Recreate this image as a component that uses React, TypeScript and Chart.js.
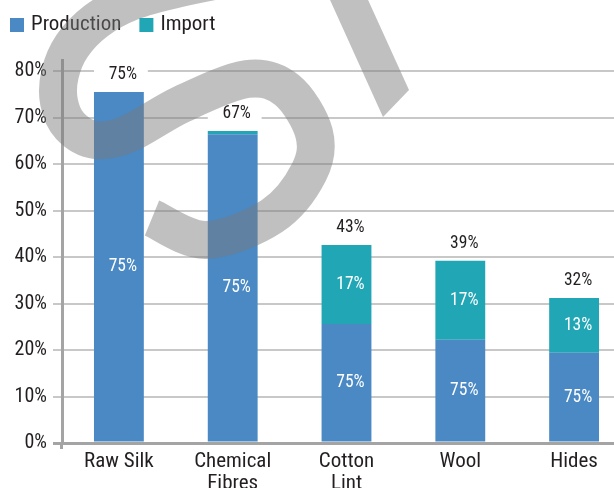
import React, { useEffect, useRef } from "react";
import { Chart, registerables } from "chart.js";

Chart.register(...registerables);

// ---------- data ----------
const categories = [["Raw Silk"], ["Chemical", "Fibres"], ["Cotton", "Lint"], ["Wool"], ["Hides"]];
const seriesNames = ["Production", "Import"];
const productionValues = [75.5, 66.4, 25.6, 22.2, 19.4];
const importValues = [0, 0.7, 17.0, 17.0, 11.8];
const productionLabels = ["75%", "75%", "75%", "75%", "75%"];
const importLabels = ["", "", "17%", "17%", "13%"];
const totalLabels = ["75%", "67%", "43%", "39%", "32%"];
const yTicks = [0, 10, 20, 30, 40, 50, 60, 70, 80];
const yTickLabels = ["0%", "10%", "20%", "30%", "40%", "50%", "60%", "70%", "80%"];

// ---------- style ----------
const FONT = "'Liberation Sans Narrow', 'Arial Narrow', 'Roboto Condensed', 'DejaVu Sans Condensed', sans-serif";
const BLUE = "#4a89c4";
const TEAL = "#20a6b4";
const TXT = "#231f20";
const GRID = "#c8c8c8";
const AXIS = "#a4a4a4";
const WM = "rgba(121,121,121,0.47)";

// decorative watermark stroke (not data)
const WM_S = [
  [250, -26], [180, -12], [130, 2], [96, 21], [72, 46], [60, 74], [59, 102], [70, 126], [95, 140], [128, 134],
  [182, 104], [247, 79], [287, 90], [314, 133], [309, 172], [272, 216], [206, 240], [152, 218],
];
const WM_V = [[321, -20], [383, 117], [409, 90], [359, -20]];

const labelPlugin = {
  id: "barLabels",
  afterDatasetsDraw(chart: any) {
    const ctx = chart.ctx;
    const m0 = chart.getDatasetMeta(0);
    const m1 = chart.getDatasetMeta(1);
    ctx.save();
    ctx.textAlign = "center";
    ctx.textBaseline = "middle";
    ctx.font = `17.5px ${FONT}`;
    m0.data.forEach((el: any, i: number) => {
      const p = el.getProps(["x", "y", "base", "width"], true);
      ctx.fillStyle = "#ffffff";
      ctx.fillText(productionLabels[i], p.x + 4, (p.y + p.base) / 2);
      const q = m1.data[i].getProps(["x", "y", "base", "width"], true);
      if (importLabels[i]) ctx.fillText(importLabels[i], q.x + 4, (q.y + q.base) / 2);
      const top = Math.min(p.y, q.y);
      const cy = top - 18;
      ctx.fillStyle = "#ffffff";
      ctx.fillRect(p.x - p.width / 2, cy - 10, p.width + 4, 20);
      ctx.fillStyle = TXT;
      ctx.fillText(totalLabels[i], p.x + 4, cy + 1);
    });
    ctx.restore();
  },
};

const decorPlugin = {
  id: "decor",
  afterDraw(chart: any) {
    const ctx = chart.ctx;
    const area = chart.chartArea;
    ctx.save();
    // axis stub below zero line
    ctx.strokeStyle = AXIS;
    ctx.lineWidth = 3;
    ctx.beginPath();
    ctx.moveTo(area.left - 0.5, area.bottom);
    ctx.lineTo(area.left - 0.5, area.bottom + 6);
    ctx.stroke();

    // legend
    ctx.font = `21px ${FONT}`;
    ctx.textBaseline = "middle";
    ctx.textAlign = "left";
    let x = 10;
    chart.data.datasets.forEach((ds: any) => {
      ctx.fillStyle = ds.backgroundColor;
      ctx.fillRect(x, 18, 14, 14);
      ctx.fillStyle = TXT;
      ctx.fillText(ds.label, x + 21, 25);
      x += 21 + ctx.measureText(ds.label).width + 18;
    });

    // watermark
    ctx.strokeStyle = WM;
    ctx.lineWidth = 38;
    ctx.lineCap = "butt";
    ctx.lineJoin = "round";
    ctx.beginPath();
    const P = WM_S;
    ctx.moveTo(P[0][0], P[0][1]);
    for (let i = 0; i < P.length - 1; i++) {
      const p0 = P[Math.max(0, i - 1)];
      const p1 = P[i];
      const p2 = P[i + 1];
      const p3 = P[Math.min(P.length - 1, i + 2)];
      ctx.bezierCurveTo(
        p1[0] + (p2[0] - p0[0]) / 6, p1[1] + (p2[1] - p0[1]) / 6,
        p2[0] - (p3[0] - p1[0]) / 6, p2[1] - (p3[1] - p1[1]) / 6,
        p2[0], p2[1]
      );
    }
    ctx.stroke();
    ctx.fillStyle = WM;
    ctx.beginPath();
    WM_V.forEach((pt, i) => (i ? ctx.lineTo(pt[0], pt[1]) : ctx.moveTo(pt[0], pt[1])));
    ctx.closePath();
    ctx.fill();
    ctx.restore();
  },
};

export default function App() {
  const ref = useRef<HTMLCanvasElement | null>(null);
  useEffect(() => {
    if (!ref.current) return;
    const chart = new Chart(ref.current, {
      type: "bar",
      data: {
        labels: categories,
        datasets: [
          { label: seriesNames[0], data: productionValues, backgroundColor: BLUE, borderWidth: 0, barPercentage: 0.438, categoryPercentage: 1 },
          { label: seriesNames[1], data: importValues, backgroundColor: TEAL, borderWidth: 0, barPercentage: 0.438, categoryPercentage: 1 },
        ],
      },
      options: {
        responsive: false,
        animation: false,
        devicePixelRatio: 1,
        layout: { padding: { top: 60, right: 9, left: 0, bottom: 0 } },
        plugins: { legend: { display: false }, tooltip: { enabled: false } },
        scales: {
          x: {
            stacked: true,
            grid: { display: false, drawTicks: false },
            border: { display: true, color: AXIS, width: 3 },
            ticks: { color: TXT, font: { family: FONT, size: 21, lineHeight: 1.05 }, padding: 8, maxRotation: 0, autoSkip: false },
            afterFit: (s: any) => { s.height = 57; },
          },
          y: {
            stacked: true,
            min: 0,
            max: 82.4,
            afterBuildTicks: (s: any) => { s.ticks = yTicks.map((v) => ({ value: v })); },
            grid: {
              color: (c: any) => (c.tick && c.tick.value === 0 ? AXIS : GRID),
              lineWidth: (c: any) => (c.tick && c.tick.value === 0 ? 3 : 2),
              tickLength: 9,
            },
            border: { color: AXIS, width: 3 },
            ticks: {
              color: TXT,
              font: { family: FONT, size: 20 },
              padding: 6,
              callback: (v: any) => yTickLabels[yTicks.indexOf(Number(v))] ?? "",
            },
            afterFit: (s: any) => { s.width = 62; },
          },
        },
      },
      plugins: [labelPlugin, decorPlugin],
    });
    return () => chart.destroy();
  }, []);
  return (
    <div style={{ position: "fixed", left: 0, top: 0, width: 614, height: 488, overflow: "hidden", background: "#fff" }}>
      <canvas ref={ref} width={640} height={500} style={{ display: "block", width: 640, height: 500 }} />
    </div>
  );
}
